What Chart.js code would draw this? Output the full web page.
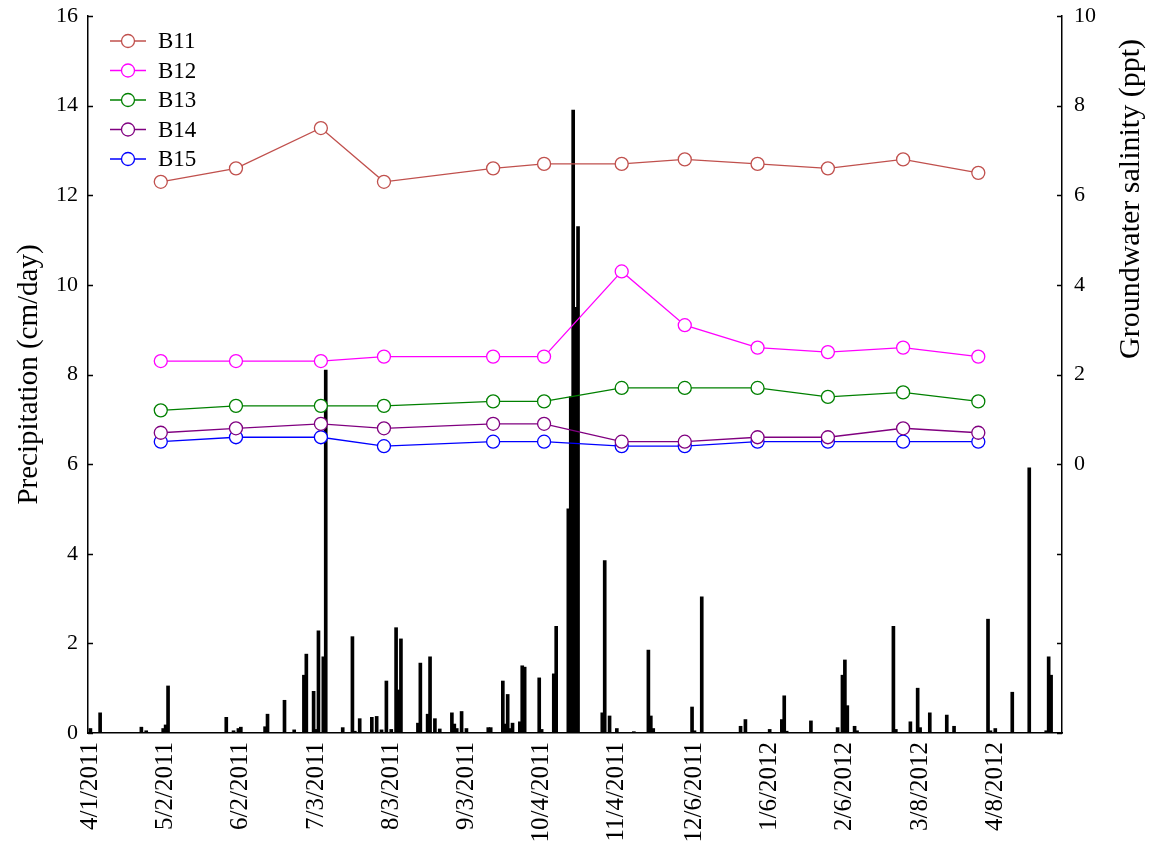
<!DOCTYPE html>
<html>
<head>
<meta charset="utf-8">
<script src="https://cdn.jsdelivr.net/npm/chart.js@4.4.1/dist/chart.umd.min.js"></script>
<style>
  html, body { margin: 0; padding: 0; background: #fff; }
  #wrap { width: 1155px; height: 841px; }
</style>
</head>
<body>
<div id="wrap"><canvas id="c" width="1155" height="841"></canvas></div>
<script>
// ---- Data (day index: 0 = 4/1/2011) ----
const tickDays   = [0, 31, 62, 93, 124, 155, 186, 217, 249, 280, 311, 342, 373];
const tickLabels = ['4/1/2011','5/2/2011','6/2/2011','7/3/2011','8/3/2011','9/3/2011','10/4/2011','11/4/2011','12/6/2011','1/6/2012','2/6/2012','3/8/2012','4/8/2012'];

const rainDays = [0,4,21,23,30,31,32,56,59,61,62,72,73,80,84,88,89,92,93,94,96,97,104,108,109,111,116,118,120,122,124,126,127,128,135,136,139,140,142,144,149,150,151,153,155,164,165,170,171,172,173,174,177,178,179,185,186,191,192,197,198,199,200,201,211,212,214,217,224,230,231,232,248,249,252,268,270,280,285,286,287,297,308,310,311,312,315,316,331,332,338,341,342,346,353,356,370,371,373,380,387,394,395,396];
const rainValues = [0.1,0.45,0.13,0.05,0.1,0.18,1.05,0.35,0.05,0.1,0.13,0.14,0.42,0.73,0.07,1.29,1.76,0.93,0.08,2.28,1.7,8.1,0.12,2.15,0.04,0.32,0.35,0.37,0.07,1.16,0.08,2.35,0.96,2.1,0.22,1.56,0.42,1.7,0.32,0.09,0.45,0.2,0.1,0.48,0.1,0.12,0.12,1.16,0.2,0.86,0.1,0.22,0.25,1.5,1.47,1.23,0.08,1.32,2.38,5.0,7.5,13.9,9.5,11.3,0.45,3.85,0.38,0.1,0.03,1.85,0.38,0.1,0.58,0.05,3.04,0.15,0.3,0.08,0.3,0.83,0.04,0.27,0.12,1.29,1.63,0.61,0.15,0.05,2.38,0.08,0.25,1.0,0.12,0.45,0.4,0.15,2.54,0.05,0.1,0.91,5.92,0.05,1.7,1.29];

const sampleDays = [29, 60, 95, 121, 166, 187, 219, 245, 275, 304, 335, 366];
const B11 = [6.3, 6.6, 7.5, 6.3, 6.6, 6.7, 6.7, 6.8, 6.7, 6.6, 6.8, 6.5];
const B12 = [2.3, 2.3, 2.3, 2.4, 2.4, 2.4, 4.3, 3.1, 2.6, 2.5, 2.6, 2.4];
const B13 = [1.2, 1.3, 1.3, 1.3, 1.4, 1.4, 1.7, 1.7, 1.7, 1.5, 1.6, 1.4];
const B14 = [0.7, 0.8, 0.9, 0.8, 0.9, 0.9, 0.5, 0.5, 0.6, 0.6, 0.8, 0.7];
const B15 = [0.5, 0.6, 0.6, 0.4, 0.5, 0.5, 0.4, 0.4, 0.5, 0.5, 0.5, 0.5];

const seriesNames  = ['B11', 'B12', 'B13', 'B14', 'B15'];
const seriesValues = [B11, B12, B13, B14, B15];
const seriesColors = ['#c0504d', '#ff00ff', '#008000', '#800080', '#0000ff'];

// ---- Chart ----
const FONT = "'Liberation Serif', serif";
Chart.defaults.font.family = FONT;
Chart.defaults.color = '#000';

const lineSets = seriesNames.map((name, i) => ({
  type: 'line',
  label: name,
  data: sampleDays.map((d, j) => ({ x: d, y: seriesValues[i][j] })),
  xAxisID: 'x',
  yAxisID: 'y2',
  borderColor: seriesColors[i],
  borderWidth: 1.3,
  pointRadius: 6.5,
  pointBorderWidth: 1.3,
  pointBackgroundColor: '#fff',
  pointBorderColor: seriesColors[i],
  tension: 0,
  fill: false,
  order: 1
}));

const barSet = {
  type: 'bar',
  label: 'Precipitation',
  data: rainDays.map((d, i) => ({ x: d, y: rainValues[i] })),
  xAxisID: 'x',
  yAxisID: 'y',
  backgroundColor: '#000',
  borderWidth: 0,
  barThickness: 3,
  grouped: false,
  order: 2
};

const innerTicks = {
  id: 'innerTicks',
  afterDraw(chart) {
    const ctx = chart.ctx;
    const ya = chart.scales.y, yb = chart.scales.y2;
    const area = chart.chartArea;
    ctx.save();
    ctx.strokeStyle = '#000';
    ctx.lineWidth = 1.5;
    ya.ticks.forEach(t => {
      const p = Math.round(ya.getPixelForValue(t.value)) + 0.5;
      ctx.beginPath(); ctx.moveTo(area.left, p); ctx.lineTo(area.left + 5, p); ctx.stroke();
    });
    yb.ticks.forEach(t => {
      const p = Math.round(yb.getPixelForValue(t.value)) + 0.5;
      ctx.beginPath(); ctx.moveTo(area.right - 5, p); ctx.lineTo(area.right, p); ctx.stroke();
    });
    // right-axis title (reads bottom to top)
    ctx.fillStyle = '#000';
    ctx.font = '30px ' + FONT;
    ctx.textAlign = 'center';
    ctx.textBaseline = 'middle';
    ctx.translate(1131, 199);
    ctx.rotate(-Math.PI / 2);
    ctx.fillText('Groundwater salinity (ppt)', 0, 0);
    ctx.restore();
  }
};

const innerLegend = {
  id: 'innerLegend',
  afterDraw(chart) {
    const ctx = chart.ctx;
    ctx.save();
    ctx.font = '23px ' + FONT;
    ctx.textBaseline = 'middle';
    ctx.textAlign = 'left';
    seriesNames.forEach((name, i) => {
      const y = 41 + i * 29.5;
      ctx.strokeStyle = seriesColors[i];
      ctx.lineWidth = 1.3;
      ctx.beginPath(); ctx.moveTo(110, y); ctx.lineTo(146, y); ctx.stroke();
      ctx.beginPath(); ctx.arc(128, y, 6.5, 0, Math.PI * 2);
      ctx.fillStyle = '#fff'; ctx.fill(); ctx.stroke();
      ctx.fillStyle = '#000';
      ctx.fillText(name, 158, y + 1);
    });
    ctx.restore();
  }
};

new Chart(document.getElementById('c'), {
  type: 'bar',
  data: { datasets: [...lineSets, barSet] },
  options: {
    responsive: false,
    animation: false,
    layout: { padding: { top: 16, left: 0, right: 0, bottom: 0 } },
    plugins: { legend: { display: false }, tooltip: { enabled: false } },
    scales: {
      x: {
        type: 'linear',
        min: -1,
        max: 400.5,
        offset: false,
        afterBuildTicks: s => { s.ticks = tickDays.map(v => ({ value: v })); },
        afterFit: s => { s.height = 108; s.paddingLeft = 0; s.paddingRight = 0; },
        ticks: {
          autoSkip: false,
          minRotation: 90,
          maxRotation: 90,
          padding: 9,
          font: { size: 25 },
          callback: (v, i) => tickLabels[i]
        },
        grid: { display: false, drawTicks: false },
        border: { display: true, color: '#000', width: 1.5 }
      },
      y: {
        position: 'left',
        min: 0,
        max: 16,
        afterFit: s => { s.width = 88; s.paddingTop = 0; s.paddingBottom = 0; },
        ticks: { stepSize: 2, padding: 10, font: { size: 22 } },
        grid: { display: false, drawTicks: false },
        border: { display: true, color: '#000', width: 1.5 },
        title: { display: true, text: 'Precipitation (cm/day)', font: { size: 29 }, padding: { top: 12, bottom: 0 } }
      },
      y2: {
        position: 'right',
        min: -6,
        max: 10,
        afterFit: s => { s.width = 93; s.paddingTop = 0; s.paddingBottom = 0; },
        ticks: { stepSize: 2, padding: 12, font: { size: 22 }, callback: v => (v >= 0 ? String(v) : '') },
        grid: { display: false, drawTicks: false },
        border: { display: true, color: '#000', width: 1.5 }
      }
    }
  },
  plugins: [innerTicks, innerLegend]
});
</script>
</body>
</html>
